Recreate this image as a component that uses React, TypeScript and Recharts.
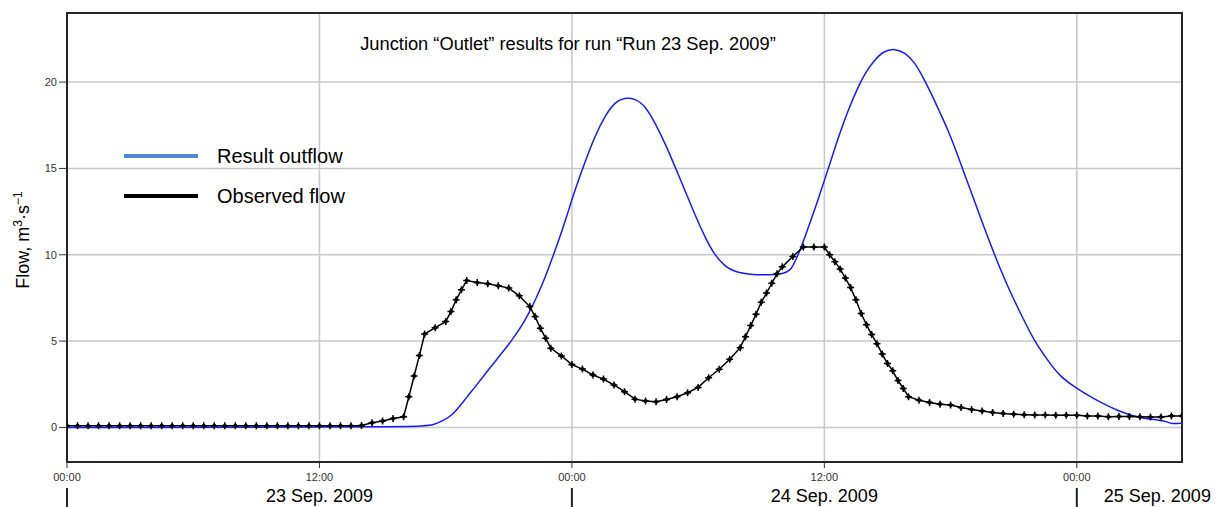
import React from 'react';
import { LineChart, Line, XAxis, YAxis, CartesianGrid, Legend, ReferenceArea } from 'recharts';

// time axis in hours from 23 Sep. 2009 00:00
const hourTicks = [0, 12, 24, 36, 48];
const hourLabels = ['00:00', '12:00', '00:00', '12:00', '00:00'];
const dateLabels = ['', '23 Sep. 2009', '', '24 Sep. 2009', '25 Sep. 2009'];
const flowTicks = [0, 5, 10, 15, 20];

const outflowHours = [
  0, 17.0, 17.4, 17.9, 18.3, 18.55, 19.0, 19.5, 20.0, 20.6, 21.1, 21.55, 21.95, 22.35, 22.75, 23.05,
  23.45, 23.77, 24.16, 24.63, 25.1, 25.6, 26.05, 26.5, 27.0, 27.5, 27.95, 28.45, 28.9, 29.4, 29.85,
  30.35, 30.8, 31.3, 31.75, 32.25, 32.6, 34.2, 34.5, 34.9, 35.3, 35.65, 36.0, 36.36, 36.75, 37.15,
  37.55, 37.95, 38.35, 38.8, 39.35, 39.85, 40.3, 40.7, 41.1, 41.5, 41.9, 42.3, 42.7, 43.1, 43.4,
  43.9, 44.35, 44.85, 45.4, 45.95, 46.6, 47.2, 48.0, 48.65, 49.3, 49.9, 50.55, 51.2, 51.95, 52.3,
  52.5, 53.0,
];
const outflowValues = [
  0, 0.02, 0.15, 0.4, 0.72, 1.05, 1.75, 2.5, 3.3, 4.2, 4.97, 5.75, 6.6, 7.6, 8.75, 9.75,
  11.1, 12.3, 13.8, 15.4, 16.9, 18.1, 18.85, 19.1, 19.05, 18.6, 17.64, 16.4, 15.1, 13.65, 12.3,
  10.95, 9.95, 9.3, 9.02, 8.9, 8.84, 8.84, 9.3, 10.4, 11.8, 13.0, 14.3, 15.65, 17.1, 18.42,
  19.58, 20.55, 21.22, 21.8, 21.94, 21.71, 21.13, 20.26, 19.29, 18.22, 17.16, 15.9, 14.54, 13.25, 12.2,
  10.6, 9.2, 7.8, 6.42, 5.07, 3.91, 2.94, 2.26, 1.78, 1.35, 1.0, 0.71, 0.52, 0.42, 0.33,
  0.2, 0.25,
];

const observedHours = [
  0, 0.5, 1, 1.5, 2, 2.5, 3, 3.5, 4, 4.5, 5, 5.5, 6, 6.5, 7, 7.5, 8, 8.5, 9, 9.5, 10, 10.5, 11, 11.5,
  12, 12.5, 13, 13.5, 14, 14.5, 15, 15.5, 16, 16.25, 16.5, 16.75, 17, 17.5, 18, 18.25, 18.5, 18.75,
  19, 19.5, 20, 20.5, 21, 21.5, 22, 22.25, 22.5, 22.75, 23, 23.5, 24, 24.5, 25, 25.5, 26, 26.5, 27,
  27.5, 28, 28.5, 29, 29.5, 30, 30.5, 31, 31.5, 32, 32.25, 32.5, 32.75, 33, 33.25, 33.5, 33.75, 34,
  34.5, 35, 35.5, 36, 36.25, 36.5, 36.75, 37, 37.25, 37.5, 37.75, 38, 38.25, 38.5, 38.75, 39, 39.25,
  39.5, 39.75, 40, 40.5, 41, 41.5, 42, 42.5, 43, 43.5, 44, 44.5, 45, 45.5, 46, 46.5, 47, 47.5, 48,
  48.5, 49, 49.5, 50, 50.5, 51, 51.5, 52, 52.5, 53,
];
const observedValues = [
  0.1, 0.1, 0.1, 0.1, 0.1, 0.1, 0.1, 0.1, 0.1, 0.1, 0.1, 0.1, 0.1, 0.1, 0.1, 0.1, 0.1, 0.1, 0.1, 0.1, 0.1, 0.1, 0.1, 0.1,
  0.1, 0.1, 0.1, 0.1, 0.12, 0.27, 0.38, 0.52, 0.62, 1.78, 2.98, 4.16, 5.41, 5.78, 6.13, 6.71, 7.39, 7.97,
  8.51, 8.39, 8.32, 8.2, 8.07, 7.62, 7.0, 6.42, 5.75, 5.17, 4.58, 4.14, 3.64, 3.38, 3.04, 2.8, 2.46, 2.07, 1.64,
  1.53, 1.49, 1.62, 1.78, 2.01, 2.32, 2.88, 3.37, 3.95, 4.62, 5.26, 5.9, 6.55, 7.25, 7.78, 8.35, 8.9, 9.3,
  9.9, 10.45, 10.45, 10.45, 10.0, 9.6, 9.17, 8.65, 8.1, 7.4, 6.6, 5.95, 5.38, 4.85, 4.25, 3.7, 3.28,
  2.72, 2.26, 1.78, 1.58, 1.45, 1.35, 1.3, 1.15, 1.04, 0.95, 0.87, 0.81, 0.77, 0.74, 0.72, 0.72, 0.7, 0.7, 0.7,
  0.66, 0.66, 0.62, 0.64, 0.64, 0.62, 0.6, 0.6, 0.67, 0.67,
];

const legendItems = [
  { name: 'Result outflow', color: '#4f88d8' },
  { name: 'Observed flow', color: '#000000' },
];

const outflowData = outflowHours.map((h, i) => ({ hour: h, flow: outflowValues[i] }));
const observedData = observedHours.map((h, i) => ({ hour: h, flow: observedValues[i] }));

const FONT = '"Liberation Sans", Arial, sans-serif';

function HourTick(props: any) {
  const { x, y, index } = props;
  const date = dateLabels[index];
  const midnight = hourLabels[index] === '00:00';
  return (
    <g>
      <text x={x} y={y + 11} textAnchor="middle" fontSize={11} fill="#333" fontFamily={FONT}>
        {hourLabels[index]}
      </text>
      {midnight && <line x1={x} x2={x} y1={y + 18} y2={y + 38} stroke="#222" strokeWidth={2} />}
      {date && (
        <text
          x={midnight ? x + 27 : x}
          y={y + 32}
          textAnchor={midnight ? 'start' : 'middle'}
          fontSize={18}
          fill="#000"
          fontFamily={FONT}
        >
          {date}
        </text>
      )}
    </g>
  );
}

function CrossDot(props: any) {
  const { cx, cy } = props;
  return (
    <g>
      <path d={`M${cx - 3.5},${cy}H${cx + 3.5}M${cx},${cy - 3.5}V${cy + 3.5}`} stroke="#000" strokeWidth={1.5} />
      <circle cx={cx} cy={cy} r={2.1} fill="#000" />
    </g>
  );
}

function LegendBox() {
  return (
    <div style={{ fontFamily: FONT }}>
      {legendItems.map(item => (
        <div key={item.name} style={{ display: 'flex', alignItems: 'center', height: 40 }}>
          <span style={{ display: 'inline-block', width: 74, height: 4, background: item.color, marginRight: 19 }} />
          <span style={{ fontSize: 20, color: '#000' }}>{item.name}</span>
        </div>
      ))}
    </div>
  );
}

export default function App() {
  return (
    <div style={{ position: 'absolute', left: 0, top: 0, background: '#fff' }}>
      <LineChart width={1217} height={507} margin={{ top: 13, right: 35, bottom: 15, left: 0 }}>
        <CartesianGrid stroke="#c8c8c8" strokeWidth={1.5} />
        <XAxis
          dataKey="hour"
          type="number"
          domain={[0, 53]}
          ticks={hourTicks}
          interval={0}
          allowDataOverflow
          height={30}
          axisLine={false}
          tickLine={{ stroke: '#333' }}
          tickSize={6}
          tickMargin={2}
          tick={<HourTick />}
        />
        <YAxis
          type="number"
          domain={[-2, 24]}
          ticks={flowTicks}
          interval={0}
          allowDataOverflow
          width={67}
          axisLine={false}
          tickLine={{ stroke: '#333' }}
          tickSize={8}
          tickMargin={2}
          tick={{ fontSize: 11, fill: '#333', fontFamily: FONT }}
        />
        <ReferenceArea x1={0} x2={53} y1={-2} y2={24} fill="none" stroke="#262626" strokeWidth={2} ifOverflow="visible" />
        <Legend
          layout="vertical"
          align="center"
          verticalAlign="middle"
          wrapperStyle={{ left: 124, top: 136, width: 'auto', height: 'auto' }}
          content={<LegendBox />}
        />
        <Line
          data={outflowData}
          dataKey="flow"
          type="basis"
          stroke="#1a1aff"
          strokeWidth={1.5}
          dot={false}
          isAnimationActive={false}
        />
        <Line
          data={observedData}
          dataKey="flow"
          type="linear"
          stroke="#000"
          strokeWidth={1.5}
          dot={(p: any) => <CrossDot key={p.index} {...p} />}
          isAnimationActive={false}
        />
        <text x={568} y={50} textAnchor="middle" fontSize={18.3} fontFamily={FONT} fill="#000">
          Junction “Outlet” results for run “Run 23 Sep. 2009”
        </text>
        <text x={29} y={240} transform="rotate(-90 29 240)" textAnchor="middle" fontSize={18} fontFamily={FONT} fill="#000">
          Flow, m<tspan dy={-7} fontSize={12}>3</tspan>
          <tspan dy={7}>·s</tspan>
          <tspan dy={-7} fontSize={12}>−1</tspan>
        </text>
      </LineChart>
    </div>
  );
}
